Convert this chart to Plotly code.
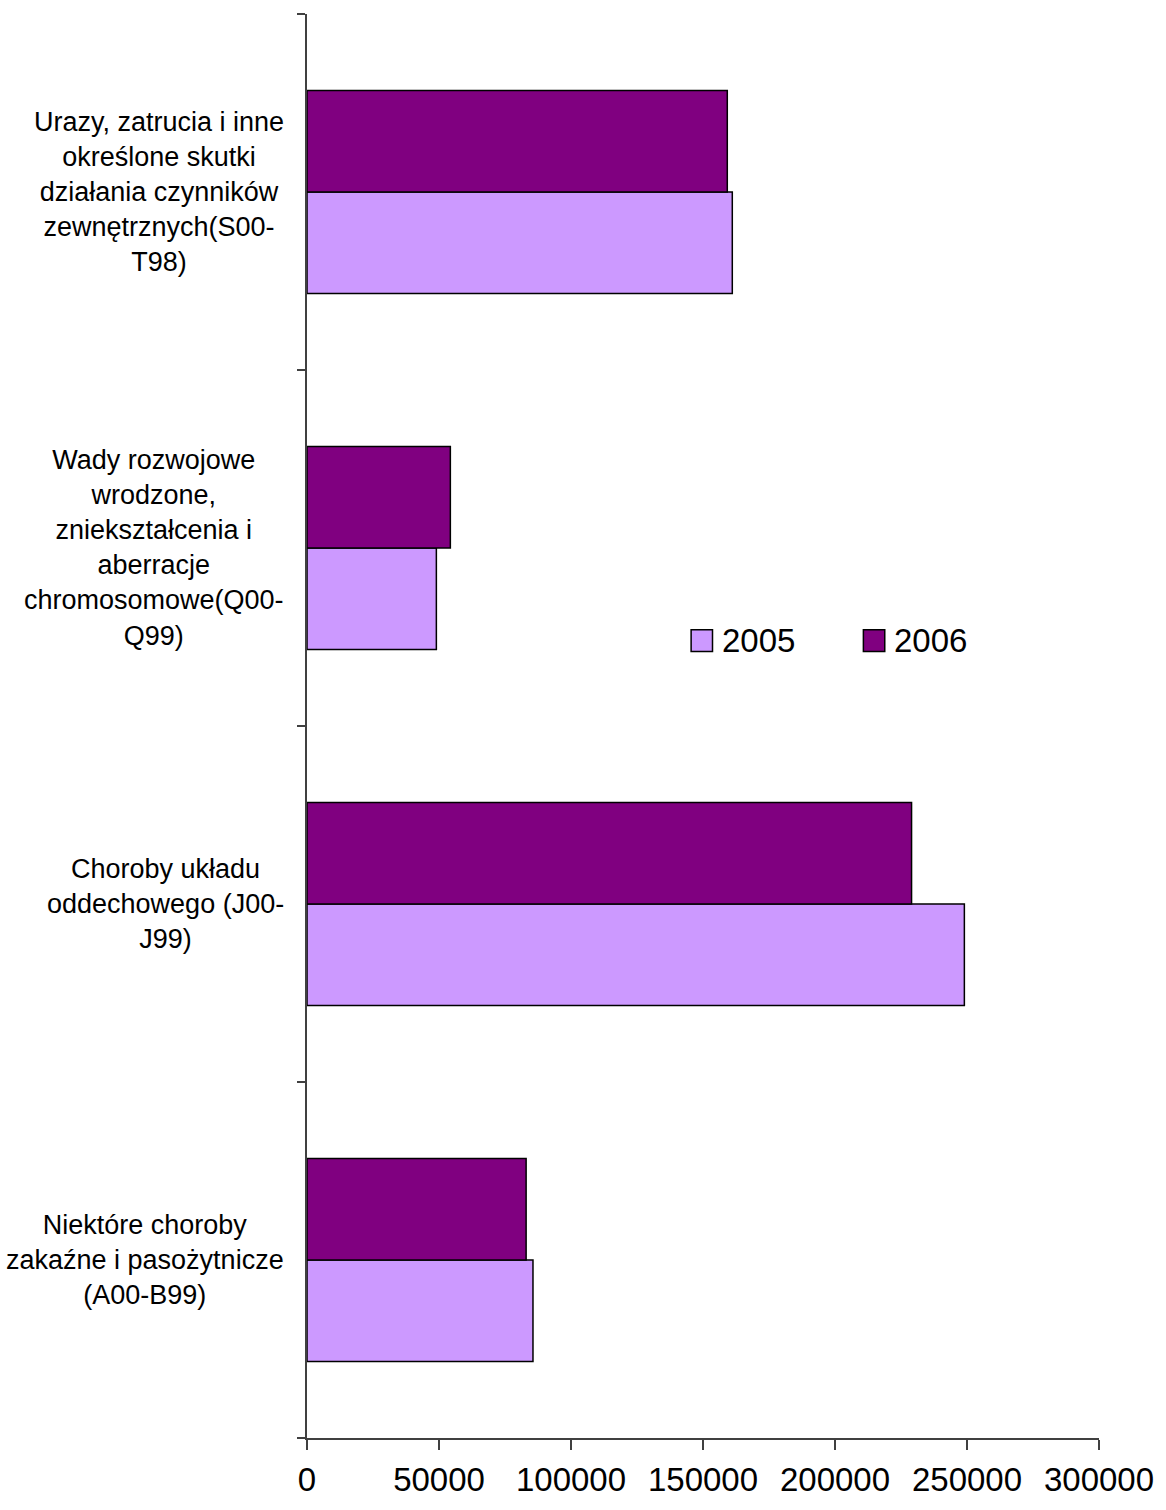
import plotly.graph_objects as go

categories = [
    "Niektóre choroby<br>zakaźne i pasożytnicze<br>(A00-B99)",
    "Choroby układu<br>oddechowego (J00-<br>J99)",
    "Wady rozwojowe<br>wrodzone,<br>zniekształcenia i<br>aberracje<br>chromosomowe(Q00-<br>Q99)",
    "Urazy, zatrucia i inne<br>określone skutki<br>działania czynników<br>zewnętrznych(S00-<br>T98)",
]
series_names = ["2005", "2006"]
values_2005 = [85600, 249000, 49000, 161100]
values_2006 = [83000, 229000, 54300, 159200]
series_colors = ["#CC99FF", "#800080"]
x_ticks = [0, 50000, 100000, 150000, 200000, 250000, 300000]

FONT = "Liberation Sans, Arial, sans-serif"

fig = go.Figure()
for name, vals, col in zip(series_names, [values_2005, values_2006], series_colors):
    fig.add_trace(go.Bar(
        name=name, y=categories, x=vals, orientation="h",
        marker=dict(color=col, line=dict(color="#000000", width=1.5)),
        showlegend=False,
    ))

# category labels (centered multi-line text, right edge near axis)
for c in categories:
    fig.add_annotation(
        x=-0.027, xref="paper", y=c, yref="y", text=c, showarrow=False,
        xanchor="right", yanchor="middle", align="center",
        font=dict(family=FONT, size=27, color="#000000"),
    )

# legend drawn as boxes + text
legend_box_x = [0.485, 0.7025]
box_w = 0.027
for name, col, bx in zip(series_names, series_colors, legend_box_x):
    fig.add_shape(
        type="rect", xref="paper", yref="paper",
        x0=bx, x1=bx + box_w, y0=0.5523, y1=0.5676,
        fillcolor=col, line=dict(color="#000000", width=1.5),
    )
    fig.add_annotation(
        x=bx + box_w + 0.009, xref="paper", y=0.5600, yref="paper",
        text=name, showarrow=False, xanchor="left", yanchor="middle",
        font=dict(family=FONT, size=33, color="#000000"),
    )

fig.update_layout(
    width=1166, height=1510,
    margin=dict(l=307, r=59, t=14, b=62),
    paper_bgcolor="white", plot_bgcolor="white",
    barmode="group", bargap=0.43, bargroupgap=0,
    font=dict(family=FONT, color="#000000"),
    showlegend=False,
)
fig.update_xaxes(
    range=[0, 300000], tickvals=x_ticks, ticktext=[str(v) for v in x_ticks],
    showgrid=False, zeroline=False, showline=True, linecolor="#404040", linewidth=1.5,
    ticks="outside", ticklen=10, tickcolor="#404040", tickwidth=1.5,
    tickfont=dict(family=FONT, size=33, color="#000000"),
    ticklabelstandoff=2,
)
fig.update_yaxes(
    showgrid=False, zeroline=False, showline=True, linecolor="#404040", linewidth=1.5,
    ticks="outside", ticklen=8, tickcolor="#404040", tickwidth=1.5,
    tickson="boundaries", showticklabels=False,
)

fig.write_html(
    "out.html",
    config={"displayModeBar": False},
    post_script="document.body.style.margin='0';document.body.style.overflow='hidden';",
)
